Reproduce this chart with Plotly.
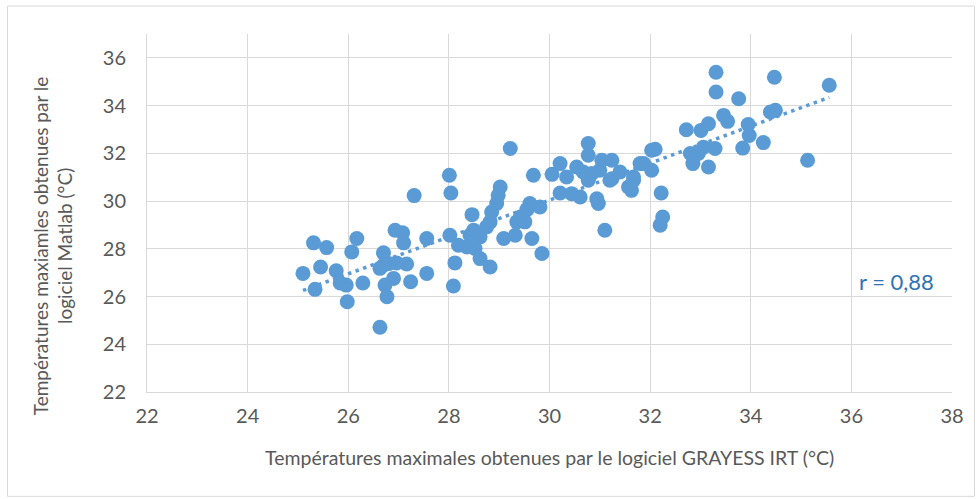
import numpy as np
import plotly.graph_objects as go

# Data (GRAYESS IRT vs Matlab max temperatures, °C)
x_grayess = [25.10, 25.31, 25.34, 25.45, 25.57, 25.76, 25.84, 25.96, 25.98, 26.07,
             26.17, 26.29, 26.63, 26.70, 26.63, 26.70, 26.80, 26.73, 26.77, 26.90,
             26.93, 26.96, 27.08, 27.10, 27.16, 27.24, 27.31, 27.56, 27.56, 28.01,
             28.04, 28.02, 28.09, 28.12, 28.19, 28.36, 28.42, 28.46, 28.49, 28.52,
             28.62, 28.62, 28.75, 28.82, 28.82, 28.85, 28.95, 28.98, 29.02, 29.09,
             29.22, 29.32, 29.35, 29.42, 29.51, 29.55, 29.61, 29.65, 29.68, 29.85,
             29.81, 30.05, 30.21, 30.21, 30.34, 30.44, 30.54, 30.61, 30.67, 30.77,
             30.77, 30.77, 30.84, 30.94, 30.97, 31.00, 31.04, 31.10, 31.20, 31.24,
             31.24, 31.40, 31.57, 31.63, 31.67, 31.67, 31.80, 31.87, 32.03, 32.10,
             32.03, 32.22, 32.25, 32.20, 32.72, 32.80, 32.85, 32.96, 33.01, 33.06,
             33.16, 33.16, 33.29, 33.31, 33.31, 33.46, 33.54, 33.76, 33.84, 33.95,
             33.97, 34.25, 34.39, 34.49, 34.47, 35.13, 35.56]
y_matlab = [26.97, 28.25, 26.30, 27.24, 28.05, 27.08, 26.57, 26.48, 25.78, 27.87,
            28.43, 26.57, 24.71, 27.83, 27.18, 27.31, 27.38, 26.48, 25.99, 26.76,
            28.78, 27.41, 28.67, 28.25, 27.36, 26.62, 30.23, 28.43, 26.97, 31.08,
            30.34, 28.57, 26.44, 27.41, 28.15, 28.08, 28.57, 29.43, 28.78, 28.01,
            27.59, 28.50, 28.92, 29.13, 27.24, 29.54, 29.90, 30.24, 30.59, 28.43,
            32.20, 28.57, 29.13, 29.33, 29.13, 29.64, 29.90, 28.43, 31.08, 27.80,
            29.75, 31.12, 31.57, 30.34, 31.01, 30.31, 31.43, 30.17, 31.22, 32.41,
            31.92, 30.87, 31.15, 30.10, 29.90, 31.29, 31.71, 28.78, 30.87, 31.71,
            30.94, 31.22, 30.59, 30.45, 30.87, 31.01, 31.57, 31.57, 32.13, 32.17,
            31.29, 30.34, 29.33, 28.99, 32.99, 31.99, 31.57, 31.99, 32.96, 32.26,
            33.24, 31.43, 32.20, 35.40, 34.57, 33.59, 33.34, 34.29, 32.22, 33.21,
            32.75, 32.45, 33.73, 33.80, 35.19, 31.71, 34.85]
r_label = "r = 0,88"

x_ticks = [22, 24, 26, 28, 30, 32, 34, 36, 38]
y_ticks = [22, 24, 26, 28, 30, 32, 34, 36]

xa = np.array(x_grayess)
ya = np.array(y_matlab)
slope, intercept = np.polyfit(xa, ya, 1)
tx = np.array([xa.min(), xa.max()])
ty = slope * tx + intercept

blue = "#5B9BD5"
grid = "#D9D9D9"
txt = "#595959"
font_fam = "Lato, 'Open Sans', sans-serif"

fig = go.Figure()
fig.add_trace(go.Scatter(x=x_grayess, y=y_matlab, mode="markers",
                         marker=dict(size=15, color=blue, line=dict(width=0)),
                         showlegend=False, hoverinfo="x+y"))
fig.add_trace(go.Scatter(x=tx, y=ty, mode="lines",
                         line=dict(color=blue, width=3.5, dash="3.5px,4.5px"),
                         showlegend=False, hoverinfo="skip"))

L, R, T, B = 147, 28, 33.5, 107
W, H = 980, 499
pw = W - L - R
ph = H - T - B

def px2paper_x(px):
    return (px - L) / pw

def px2paper_y(py):
    return (H - B - py) / ph

fig.add_shape(type="rect", xref="paper", yref="paper",
              x0=px2paper_x(7.5), x1=px2paper_x(974.5),
              y0=px2paper_y(496.5), y1=px2paper_y(5.5),
              line=dict(color=grid, width=1), fillcolor="rgba(0,0,0,0)", layer="below")

fig.add_annotation(x=36.9, y=26.65, xref="x", yref="y", text=r_label, showarrow=False,
                   font=dict(family=font_fam, size=22, color="#2E74B5"))

fig.add_annotation(xref="paper", yref="paper", x=px2paper_x(53), y=px2paper_y(246),
                   xanchor="center", yanchor="middle",
                   text="Températures maxiamles obtenues par le<br>logiciel Matlab (°C)",
                   textangle=-90, showarrow=False, align="center",
                   font=dict(family=font_fam, size=19, color=txt))
fig.add_annotation(xref="paper", yref="paper", x=0.5, y=px2paper_y(458),
                   xanchor="center", yanchor="middle",
                   text="Températures maximales obtenues par le logiciel GRAYESS IRT (°C)",
                   showarrow=False, font=dict(family=font_fam, size=19.5, color=txt))

fig.update_xaxes(range=[22, 38], tickvals=x_ticks, ticktext=[str(v) for v in x_ticks],
                 showgrid=True, gridcolor=grid, gridwidth=1, zeroline=False,
                 showline=True, linecolor=grid, linewidth=1, mirror=False,
                 ticks="", ticklabelstandoff=6,
                 tickfont=dict(family=font_fam, size=20, color=txt))
fig.update_yaxes(range=[22, 37], tickvals=y_ticks, ticktext=[str(v) for v in y_ticks],
                 showgrid=True, gridcolor=grid, gridwidth=1, zeroline=False,
                 showline=True, linecolor=grid, linewidth=1,
                 ticks="", ticklabelstandoff=16,
                 tickfont=dict(family=font_fam, size=20, color=txt))

fig.update_layout(width=W, height=H, margin=dict(l=L, r=R, t=T, b=B),
                  paper_bgcolor="white", plot_bgcolor="white")

fig.write_html("out.html", config={"displayModeBar": False},
               post_script="document.body.style.margin='0';document.body.style.overflow='hidden';")
